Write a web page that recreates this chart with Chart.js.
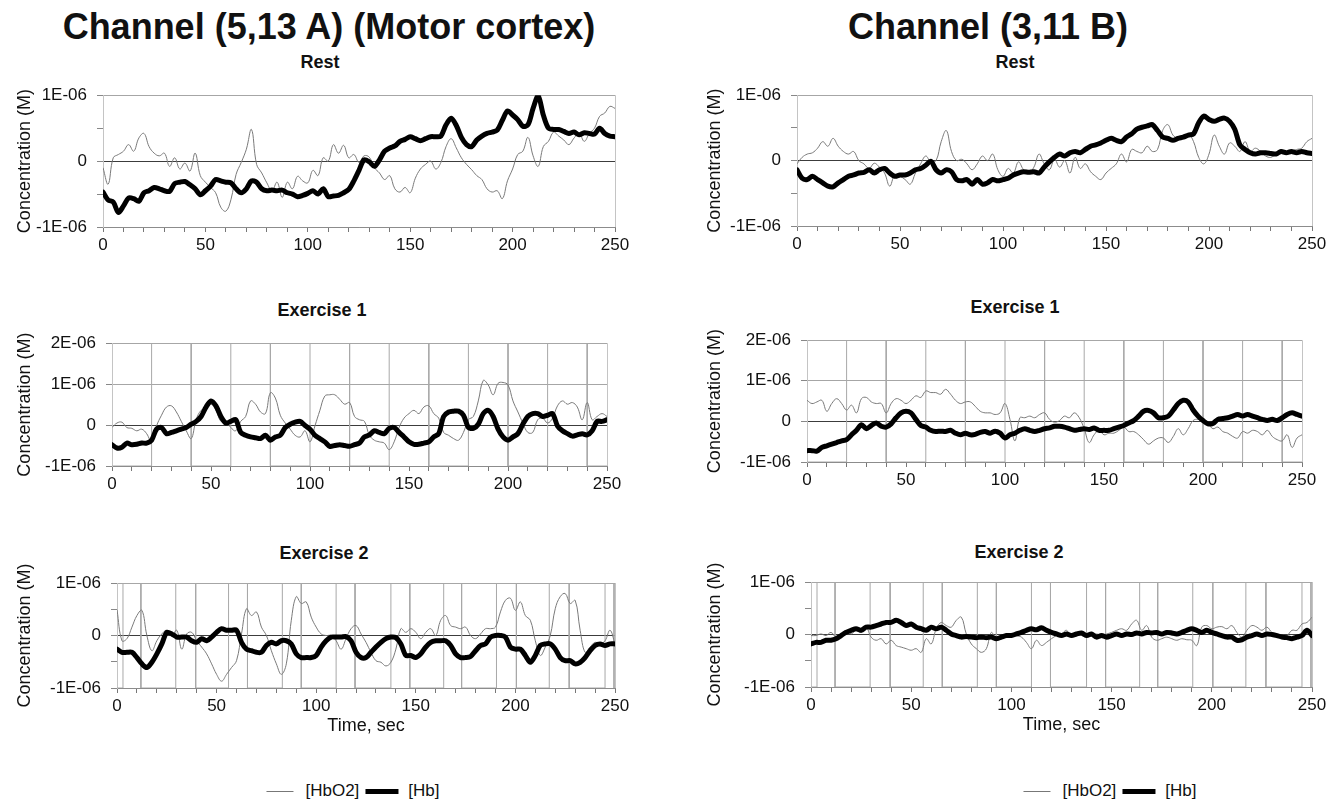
<!DOCTYPE html>
<html>
<head>
<meta charset="utf-8">
<script src="https://cdn.jsdelivr.net/npm/chart.js@4.4.0/dist/chart.umd.min.js"></script>
<style>
body { margin: 0; background: #fff; font-family: "Liberation Sans", Arial, sans-serif; }
#page { position: relative; width: 1338px; height: 804px; overflow: hidden; background: #fff; }
.lbl { position: absolute; transform: translate(-50%, -50%); white-space: nowrap; color: #111; }
.big { font-size: 36px; font-weight: bold; }
.sub { font-size: 18px; font-weight: bold; }
canvas { position: absolute; }
.legend { position: absolute; transform: translate(-50%, -50%); display: flex; align-items: center; font-size: 17px; color: #111; white-space: nowrap; }
.legend .thin { width: 27px; height: 0; border-top: 1px solid #777; margin-right: 12px; }
.legend .thick { width: 33px; height: 5px; background: #000; margin: 0 10px 0 6px; }
</style>
</head>
<body>
<div id="page">
  <div class="lbl big" style="left:329px;top:27px">Channel (5,13 A) (Motor cortex)</div>
  <div class="lbl big" style="left:988px;top:27px">Channel (3,11 B)</div>

  <div class="lbl sub" style="left:320px;top:62px">Rest</div>
  <div class="lbl sub" style="left:322px;top:310px">Exercise 1</div>
  <div class="lbl sub" style="left:324px;top:553px">Exercise 2</div>
  <div class="lbl sub" style="left:1015px;top:62px">Rest</div>
  <div class="lbl sub" style="left:1015px;top:307px">Exercise 1</div>
  <div class="lbl sub" style="left:1019px;top:552px">Exercise 2</div>

  <canvas id="restA" width="640" height="184" style="left:0;top:75px"></canvas>
  <canvas id="ex1A" width="640" height="175" style="left:0;top:323px"></canvas>
  <canvas id="ex2A" width="640" height="198" style="left:0;top:540px"></canvas>
  <canvas id="restB" width="648" height="183" style="left:690px;top:75px"></canvas>
  <canvas id="ex1B" width="648" height="174" style="left:690px;top:320px"></canvas>
  <canvas id="ex2B" width="648" height="197" style="left:690px;top:540px"></canvas>

  <div class="legend" style="left:353px;top:791px"><span class="thin"></span>[HbO2]<span class="thick"></span>[Hb]</div>
  <div class="legend" style="left:1110px;top:791px"><span class="thin"></span>[HbO2]<span class="thick"></span>[Hb]</div>
</div>
<script>
// time grid in seconds, values in units of 1E-06 M
const STEP = 2.5;
const TIME = Array.from({ length: 101 }, (_, i) => i * STEP);
const X_LABELS = [0, 50, 100, 150, 200, 250];

// Channel (5,13 A) - Rest
const REST_A_HBO2 = [
  -0.10,-0.35,0.05,0.10,0.15,0.25,0.15,0.35,0.42,0.22,
  0.12,0.08,0.12,-0.08,0.05,-0.12,-0.03,-0.15,0.12,-0.22,
  -0.32,-0.40,-0.48,-0.70,-0.76,-0.58,-0.20,-0.02,0.18,0.48,
  -0.05,-0.18,-0.33,-0.45,-0.32,-0.55,-0.32,-0.42,-0.23,-0.30,
  -0.33,-0.14,-0.22,0.05,0.00,0.25,0.12,0.24,0.05,0.10,
  -0.02,0.08,0.06,-0.10,-0.18,-0.28,-0.22,-0.42,-0.47,-0.40,
  -0.48,-0.26,-0.12,-0.05,0.00,-0.12,-0.02,0.22,0.34,0.20,
  0.05,-0.05,-0.13,-0.22,-0.28,-0.42,-0.47,-0.45,-0.57,-0.30,
  -0.12,0.10,0.15,0.36,0.08,-0.08,0.22,0.30,0.44,0.38,
  0.32,0.25,0.35,0.42,0.30,0.42,0.50,0.68,0.73,0.83,
  0.80
];
const REST_A_HB = [
  -0.47,-0.59,-0.62,-0.78,-0.68,-0.56,-0.57,-0.61,-0.48,-0.45,
  -0.40,-0.42,-0.45,-0.46,-0.34,-0.32,-0.31,-0.36,-0.42,-0.51,
  -0.45,-0.38,-0.28,-0.30,-0.32,-0.33,-0.42,-0.48,-0.42,-0.30,
  -0.32,-0.42,-0.45,-0.44,-0.45,-0.44,-0.48,-0.50,-0.54,-0.52,
  -0.49,-0.45,-0.50,-0.42,-0.54,-0.53,-0.52,-0.48,-0.43,-0.30,
  -0.14,0.02,-0.01,-0.08,0.02,0.15,0.20,0.23,0.30,0.33,
  0.37,0.34,0.31,0.34,0.37,0.37,0.38,0.55,0.65,0.54,
  0.36,0.25,0.22,0.32,0.38,0.42,0.44,0.47,0.62,0.76,
  0.70,0.63,0.53,0.55,0.80,0.99,0.70,0.50,0.48,0.48,
  0.45,0.42,0.44,0.40,0.43,0.42,0.41,0.50,0.42,0.38,
  0.37
];

// Channel (5,13 A) - Exercise 1
const EX1_A_HBO2 = [
  -0.06,0.05,0.07,-0.06,-0.08,-0.14,-0.10,-0.21,-0.41,-0.02,
  0.24,0.44,0.47,0.32,0.09,-0.14,-0.33,0.13,0.36,0.40,
  0.51,0.36,0.09,0.09,-0.06,-0.14,0.09,0.21,0.59,0.51,
  0.32,0.28,0.79,0.66,0.24,0.05,-0.10,-0.25,-0.29,-0.14,
  -0.41,-0.02,0.36,0.71,0.74,0.74,0.63,0.51,0.55,0.21,
  0.13,0.09,-0.25,-0.37,-0.41,-0.44,-0.60,-0.41,-0.06,0.17,
  0.28,0.36,0.28,0.44,0.47,0.28,0.17,-0.18,-0.25,-0.33,
  -0.37,-0.18,0.13,0.21,0.59,1.09,0.98,0.74,1.02,1.04,
  0.98,0.59,0.32,0.05,-0.18,-0.18,0.13,0.17,0.05,0.17,
  0.47,0.59,0.51,0.55,0.44,0.13,0.55,0.13,0.21,0.28,
  0.21
];
const EX1_A_HB = [
  -0.48,-0.56,-0.54,-0.44,-0.48,-0.47,-0.44,-0.44,-0.37,-0.10,
  -0.06,-0.21,-0.18,-0.14,-0.10,-0.06,0.02,0.09,0.21,0.44,
  0.59,0.47,0.21,0.05,0.09,0.13,-0.18,-0.25,-0.29,-0.31,
  -0.33,-0.25,-0.37,-0.29,-0.25,-0.06,0.02,0.07,0.09,-0.01,
  -0.10,-0.25,-0.33,-0.41,-0.52,-0.50,-0.48,-0.50,-0.52,-0.48,
  -0.44,-0.29,-0.24,-0.14,-0.18,-0.21,-0.08,-0.06,-0.18,-0.29,
  -0.41,-0.47,-0.47,-0.44,-0.41,-0.29,-0.21,0.21,0.32,0.34,
  0.34,0.24,-0.06,-0.08,0.02,0.28,0.36,0.21,-0.10,-0.29,
  -0.37,-0.29,-0.21,0.02,0.21,0.28,0.28,0.21,0.24,0.28,
  -0.02,-0.14,-0.21,-0.27,-0.24,-0.21,-0.24,-0.14,0.09,0.09,
  0.13
];

// Channel (5,13 A) - Exercise 2
const EX2_A_HBO2 = [
  0.49,-0.10,-0.06,0.16,0.38,0.48,0.00,-0.29,-0.10,0.03,
  0.10,0.00,0.10,-0.26,0.03,0.06,-0.10,-0.22,-0.35,-0.54,
  -0.74,-0.87,-0.74,-0.61,-0.48,0.03,0.51,0.38,0.45,0.16,
  0.00,-0.29,-0.54,-0.74,-0.54,0.29,0.74,0.61,0.64,0.35,
  0.16,0.03,0.00,0.00,-0.10,-0.26,-0.06,0.13,0.19,0.03,
  -0.13,-0.32,-0.48,-0.51,-0.58,-0.51,-0.26,0.13,0.06,0.13,
  0.06,-0.06,0.06,0.13,0.00,0.29,0.38,0.19,0.16,0.13,
  0.16,0.00,-0.06,0.03,0.13,0.13,0.16,0.45,0.67,0.71,
  0.48,0.64,0.38,0.29,-0.10,-0.38,-0.22,0.00,0.51,0.74,
  0.80,0.61,0.67,0.10,-0.32,-0.22,-0.13,-0.16,-0.10,0.10,
  -0.16
];
const EX2_A_HB = [
  -0.26,-0.32,-0.32,-0.32,-0.42,-0.54,-0.61,-0.51,-0.35,-0.16,
  0.06,0.03,-0.03,-0.03,-0.03,-0.10,-0.13,-0.06,-0.10,-0.03,
  0.06,0.13,0.10,0.10,0.10,-0.13,-0.26,-0.29,-0.32,-0.32,
  -0.19,-0.13,-0.16,-0.10,-0.10,-0.16,-0.35,-0.42,-0.42,-0.42,
  -0.38,-0.22,-0.10,-0.03,-0.03,-0.03,-0.02,-0.10,-0.32,-0.42,
  -0.42,-0.32,-0.22,-0.13,-0.06,-0.03,-0.04,-0.16,-0.38,-0.38,
  -0.42,-0.35,-0.22,-0.13,-0.10,-0.10,-0.10,-0.19,-0.35,-0.42,
  -0.42,-0.40,-0.29,-0.19,-0.16,-0.03,0.00,0.00,-0.03,-0.22,
  -0.26,-0.26,-0.38,-0.51,-0.38,-0.19,-0.16,-0.16,-0.26,-0.42,
  -0.48,-0.48,-0.54,-0.51,-0.42,-0.29,-0.19,-0.16,-0.19,-0.16,
  -0.16
];

// Channel (3,11 B) - Rest
const REST_B_HBO2 = [
  -0.05,0.05,0.10,0.12,0.19,0.29,0.22,0.34,0.22,0.14,
  0.10,0.14,0.00,-0.05,-0.12,-0.04,-0.10,-0.19,-0.39,-0.22,
  -0.24,-0.29,-0.36,-0.19,-0.05,0.07,-0.02,0.00,0.29,0.46,
  0.14,0.00,0.02,-0.05,-0.14,-0.05,0.07,0.00,0.10,-0.14,
  -0.24,-0.12,-0.19,-0.02,-0.14,-0.19,-0.10,0.10,-0.05,-0.14,
  0.02,-0.10,0.00,-0.19,0.05,-0.12,-0.05,-0.17,-0.24,-0.29,
  -0.19,-0.12,-0.05,0.10,-0.02,0.17,0.14,0.12,0.22,0.14,
  0.17,0.46,0.55,0.39,0.34,0.36,0.41,0.29,0.05,-0.05,
  0.10,0.39,0.22,0.10,0.27,0.22,0.14,0.29,0.14,0.19,
  0.14,0.07,0.05,0.10,0.14,0.10,0.14,0.17,0.19,0.29,
  0.34
];
const REST_B_HB = [
  -0.14,-0.27,-0.29,-0.24,-0.29,-0.34,-0.39,-0.40,-0.34,-0.29,
  -0.24,-0.22,-0.19,-0.18,-0.14,-0.19,-0.14,-0.12,-0.19,-0.24,
  -0.22,-0.22,-0.19,-0.14,-0.12,-0.07,-0.01,-0.14,-0.19,-0.14,
  -0.17,-0.29,-0.31,-0.29,-0.36,-0.29,-0.36,-0.34,-0.29,-0.31,
  -0.29,-0.27,-0.22,-0.19,-0.17,-0.18,-0.17,-0.19,-0.10,-0.02,
  0.05,0.10,0.07,0.12,0.14,0.12,0.17,0.22,0.24,0.27,
  0.31,0.34,0.31,0.29,0.36,0.41,0.48,0.51,0.53,0.55,
  0.46,0.36,0.34,0.31,0.34,0.36,0.39,0.41,0.58,0.68,
  0.63,0.60,0.63,0.65,0.60,0.48,0.24,0.17,0.12,0.10,
  0.12,0.12,0.11,0.10,0.14,0.12,0.14,0.12,0.14,0.12,
  0.11
];

// Channel (3,11 B) - Exercise 1
const EX1_B_HBO2 = [
  0.52,0.44,0.48,0.52,0.25,0.44,0.56,0.44,0.28,0.40,
  0.21,0.56,0.59,0.48,0.44,0.44,0.21,0.44,0.56,0.52,
  0.44,0.52,0.63,0.59,0.75,0.71,0.71,0.67,0.79,0.67,
  0.52,0.44,0.48,0.48,0.37,0.25,0.21,0.21,0.17,0.21,
  0.44,0.05,-0.48,0.09,0.09,0.13,0.09,0.17,0.21,0.05,
  -0.02,0.02,0.13,0.09,0.21,0.09,-0.18,-0.52,-0.33,-0.22,
  -0.33,-0.29,-0.29,-0.22,-0.14,-0.25,-0.25,-0.33,-0.45,-0.56,
  -0.48,-0.41,-0.41,-0.52,-0.37,-0.18,-0.33,-0.18,0.02,0.05,
  -0.02,-0.06,-0.18,-0.14,-0.25,-0.29,-0.37,-0.41,-0.25,-0.29,
  -0.22,-0.25,-0.33,-0.22,-0.37,-0.45,-0.48,-0.33,-0.64,-0.41,
  -0.33
];
const EX1_B_HB = [
  -0.72,-0.72,-0.73,-0.64,-0.60,-0.56,-0.52,-0.48,-0.45,-0.33,
  -0.22,-0.08,-0.18,-0.10,-0.04,-0.12,-0.14,-0.06,0.09,0.21,
  0.25,0.21,0.05,-0.10,-0.14,-0.22,-0.25,-0.24,-0.25,-0.22,
  -0.29,-0.33,-0.29,-0.33,-0.32,-0.27,-0.25,-0.29,-0.24,-0.29,
  -0.41,-0.33,-0.29,-0.22,-0.18,-0.22,-0.25,-0.22,-0.18,-0.16,
  -0.12,-0.12,-0.14,-0.18,-0.22,-0.20,-0.18,-0.20,-0.16,-0.22,
  -0.22,-0.22,-0.18,-0.14,-0.10,-0.04,0.02,0.13,0.25,0.27,
  0.21,0.09,0.09,0.13,0.28,0.44,0.52,0.48,0.28,0.13,
  0.02,-0.06,-0.05,0.05,0.07,0.09,0.13,0.17,0.13,0.17,
  0.13,0.09,0.05,0.02,0.05,0.02,0.09,0.17,0.21,0.17,
  0.13
];

// Channel (3,11 B) - Exercise 2
const EX2_B_HBO2 = [
  -0.02,-0.02,0.01,-0.02,0.04,-0.05,0.01,0.08,0.01,0.08,
  0.04,0.14,-0.05,-0.11,-0.08,-0.18,-0.11,-0.21,-0.24,-0.27,
  -0.30,-0.27,-0.34,-0.08,-0.18,0.11,0.23,0.17,0.14,0.27,
  0.33,0.01,-0.18,-0.27,-0.34,-0.27,0.04,-0.11,-0.08,-0.02,
  0.01,-0.02,-0.05,-0.15,-0.27,-0.11,-0.21,-0.15,-0.08,-0.02,
  0.01,0.08,-0.05,0.04,-0.02,-0.05,-0.02,0.01,-0.02,0.01,
  0.04,0.08,0.11,0.08,0.20,0.27,0.08,0.17,-0.05,-0.11,
  -0.08,-0.05,-0.08,-0.11,-0.08,-0.10,-0.11,-0.21,0.14,0.17,
  0.11,0.14,0.15,0.11,0.17,0.04,-0.05,0.08,0.17,0.14,
  0.08,0.14,0.04,0.01,-0.02,-0.02,0.08,0.08,0.20,0.23,
  0.33
];
const EX2_B_HB = [
  -0.18,-0.15,-0.15,-0.11,-0.11,-0.08,-0.02,0.04,0.08,0.11,
  0.08,0.14,0.14,0.17,0.20,0.23,0.23,0.27,0.23,0.17,
  0.20,0.14,0.11,0.08,0.14,0.11,0.14,0.08,0.01,-0.02,
  -0.05,-0.04,-0.05,-0.06,-0.05,-0.06,-0.05,-0.08,-0.05,-0.02,
  -0.02,0.01,0.04,0.08,0.11,0.09,0.13,0.08,0.04,0.01,
  -0.02,0.01,-0.02,0.01,0.03,-0.02,0.01,-0.05,-0.02,-0.05,
  -0.02,0.01,-0.02,0.01,0.00,0.03,0.01,0.04,0.03,0.04,
  0.01,0.04,0.03,0.01,0.04,0.08,0.11,0.08,0.04,0.08,
  0.04,0.01,-0.02,-0.05,-0.05,-0.11,-0.10,-0.05,-0.02,0.01,
  -0.02,0.01,0.00,-0.02,-0.05,-0.06,-0.08,-0.05,-0.02,0.08,
  -0.02
];

// exercise blocks [start, end] in seconds
const EX1_BLOCKS = [[20, 40], [60, 80], [100, 120], [140, 160], [180, 200], [220, 240]];
const EX2_BLOCKS = [[3, 12], [29.5, 39.5], [56, 65.5], [83, 92.5], [110, 119.5], [137.5, 147], [164, 173], [190.5, 200.5], [217, 227], [245, 249.5]];

const FONT = 'Liberation Sans, Arial, sans-serif';

function pts(values) {
    return TIME.map((t, i) => ({ x: t, y: values[i] }));
}

function blockWave(blocks, lo, hi) {
    const d = [{ x: 0, y: lo }];
    blocks.forEach(([a, b]) => {
        d.push({ x: a, y: lo }, { x: a, y: hi }, { x: b, y: hi }, { x: b, y: lo });
    });
    d.push({ x: 250, y: lo });
    return d;
}

function panel(id, o) {
    const datasets = [
        { label: '[Hb]', data: pts(o.hb), borderColor: '#000', borderWidth: 5, tension: 0.3, borderJoinStyle: 'round', borderCapStyle: 'round' },
        { label: '[HbO2]', data: pts(o.hbo2), borderColor: '#7a7a7a', borderWidth: 1, tension: 0.4 }
    ];
    if (o.blocks) {
        datasets.push({ label: 'blocks', data: blockWave(o.blocks, o.yMin, o.yMax), borderColor: '#a8a8a8', borderWidth: 1, tension: 0 });
    }

    new Chart(document.getElementById(id), {
        type: 'line',
        data: { datasets: datasets },
        options: {
            responsive: false,
            animation: false,
            events: [],
            layout: { padding: { left: 8, right: o.padR, top: o.padT || 12, bottom: 0 } },
            elements: { point: { radius: 0 } },
            plugins: { legend: { display: false }, tooltip: { enabled: false } },
            scales: {
                x: {
                    type: 'linear', min: 0, max: 250,
                    afterFit: s => { s.height = o.xH; },
                    border: { color: '#8c8c8c' },
                    grid: {
                        color: c => (c.tick && (c.tick.value === 0 || c.tick.value === 250)) ? '#c4c4c4' : 'transparent',
                        tickColor: '#777', tickLength: 5
                    },
                    ticks: {
                        stepSize: 10, autoSkip: false, maxRotation: 0, padding: 3, color: '#111',
                        font: { size: 17, family: FONT },
                        callback: v => X_LABELS.includes(v) ? String(v) : ''
                    },
                    title: { display: !!o.xTitle, text: o.xTitle || '', color: '#111', font: { size: 18, family: FONT }, padding: { top: 0, bottom: 1 } }
                },
                y: {
                    min: o.yMin, max: o.yMax,
                    afterFit: s => { s.width = o.yW; },
                    border: { color: '#c4c4c4' },
                    grid: {
                        color: c => {
                            const v = c.tick ? c.tick.value : null;
                            if (v === 0) return '#3c3c3c';
                            return Number.isInteger(v) ? '#a6a6a6' : 'transparent';
                        },
                        tickColor: '#888', tickLength: 6
                    },
                    ticks: {
                        stepSize: 0.5, padding: 10, color: '#111',
                        font: { size: 17, family: FONT },
                        callback: v => v === 0 ? '0' : (Number.isInteger(v) ? v + 'E-06' : '')
                    },
                    title: { display: true, text: 'Concentration (M)', color: '#111', font: { size: 18, family: FONT }, padding: { top: 6, bottom: 0 } }
                }
            }
        }
    });
}

panel('restA', { hbo2: REST_A_HBO2, hb: REST_A_HB, yMin: -1, yMax: 1, yW: 95, padR: 25, xH: 32 });
panel('ex1A', { hbo2: EX1_A_HBO2, hb: EX1_A_HB, yMin: -1, yMax: 2, yW: 104, padR: 33, xH: 32, blocks: EX1_BLOCKS });
panel('ex2A', { hbo2: EX2_A_HBO2, hb: EX2_A_HB, yMin: -1, yMax: 1, yW: 109, padR: 25, padT: 43, xH: 50, blocks: EX2_BLOCKS, xTitle: 'Time, sec' });
panel('restB', { hbo2: REST_B_HBO2, hb: REST_B_HB, yMin: -1, yMax: 1, yW: 99, padR: 26, xH: 32 });
panel('ex1B', { hbo2: EX1_B_HBO2, hb: EX1_B_HB, yMin: -1, yMax: 2, yW: 109, padR: 36, xH: 32, blocks: EX1_BLOCKS });
panel('ex2B', { hbo2: EX2_B_HBO2, hb: EX2_B_HB, yMin: -1, yMax: 1, yW: 113, padR: 26, padT: 42, xH: 50, blocks: EX2_BLOCKS, xTitle: 'Time, sec' });
</script>
</body>
</html>
